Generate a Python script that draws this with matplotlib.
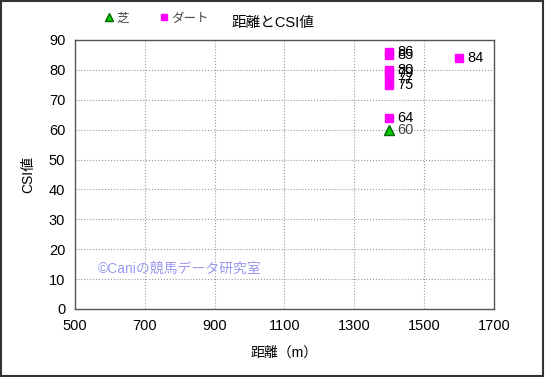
import matplotlib.pyplot as plt
from matplotlib.lines import Line2D
from matplotlib.patches import Rectangle

plt.rcParams['font.family'] = ['Liberation Sans', 'Noto Sans CJK JP', 'DejaVu Sans']

# data
turf_dist = [1400]
turf_csi = [60]
dirt_dist = [1400, 1400, 1400, 1400, 1400, 1400, 1400, 1600]
dirt_csi = [86, 85, 80, 79, 77, 75, 64, 84]

x_ticks = [500, 700, 900, 1100, 1300, 1500, 1700]
y_ticks = [0, 10, 20, 30, 40, 50, 60, 70, 80, 90]

fig = plt.figure(figsize=(5.45, 3.77), dpi=100)
ax = fig.add_axes([0.1376, 0.1804, 0.7688, 0.7135])

ax.plot(turf_dist, turf_csi, '^', color='#00cc00', markeredgecolor='#006600', markersize=7, linestyle='none')
ax.plot(dirt_dist, dirt_csi, 's', color='#ff00ff', markeredgecolor='#ff00ff', markersize=5.5, linestyle='none')

for x, y in zip(turf_dist, turf_csi):
    ax.annotate(str(y), (x, y), xytext=(6, 0), textcoords='offset points', va='center', fontsize=10.5, color='#444444')
for x, y in zip(dirt_dist, dirt_csi):
    ax.annotate(str(y), (x, y), xytext=(6, 0), textcoords='offset points', va='center', fontsize=10.5, color='black')

ax.set_xlim(500, 1700)
ax.set_ylim(0, 90)
ax.set_xticks(x_ticks)
ax.set_yticks(y_ticks)
ax.tick_params(length=0, labelsize=10.5, pad=7)
ax.grid(True, color='#999999', linestyle=':', linewidth=0.8)
for s in ax.spines.values():
    s.set_color('#555555')
    s.set_linewidth(1.0)

ax.set_xlabel('距離（m）', fontsize=10, labelpad=9)
ax.set_ylabel('CSI値', fontsize=10, labelpad=10)

fig.text(0.50, 0.94, '距離とCSI値', ha='center', va='center', fontsize=10.5)
ax.text(0.055, 0.135, '©Caniの競馬データ研究室', transform=ax.transAxes, fontsize=10, color='#9999ee')

handles = [Line2D([], [], marker='^', color='#00cc00', markeredgecolor='#006600', linestyle='none', markersize=6),
           Line2D([], [], marker='s', color='#ff00ff', linestyle='none', markersize=5)]
fig.legend(handles, ['芝', 'ダート'], loc='center left', bbox_to_anchor=(0.165, 0.95), ncol=2,
           frameon=False, handletextpad=0.0, columnspacing=2.2, fontsize=9, handlelength=1.2,
           labelcolor='#444444')

fig.add_artist(Rectangle((0.002, 0.003), 0.995, 0.994, transform=fig.transFigure, fill=False,
                         edgecolor='#333333', linewidth=1.5))

fig.savefig('out.png', dpi=100)
